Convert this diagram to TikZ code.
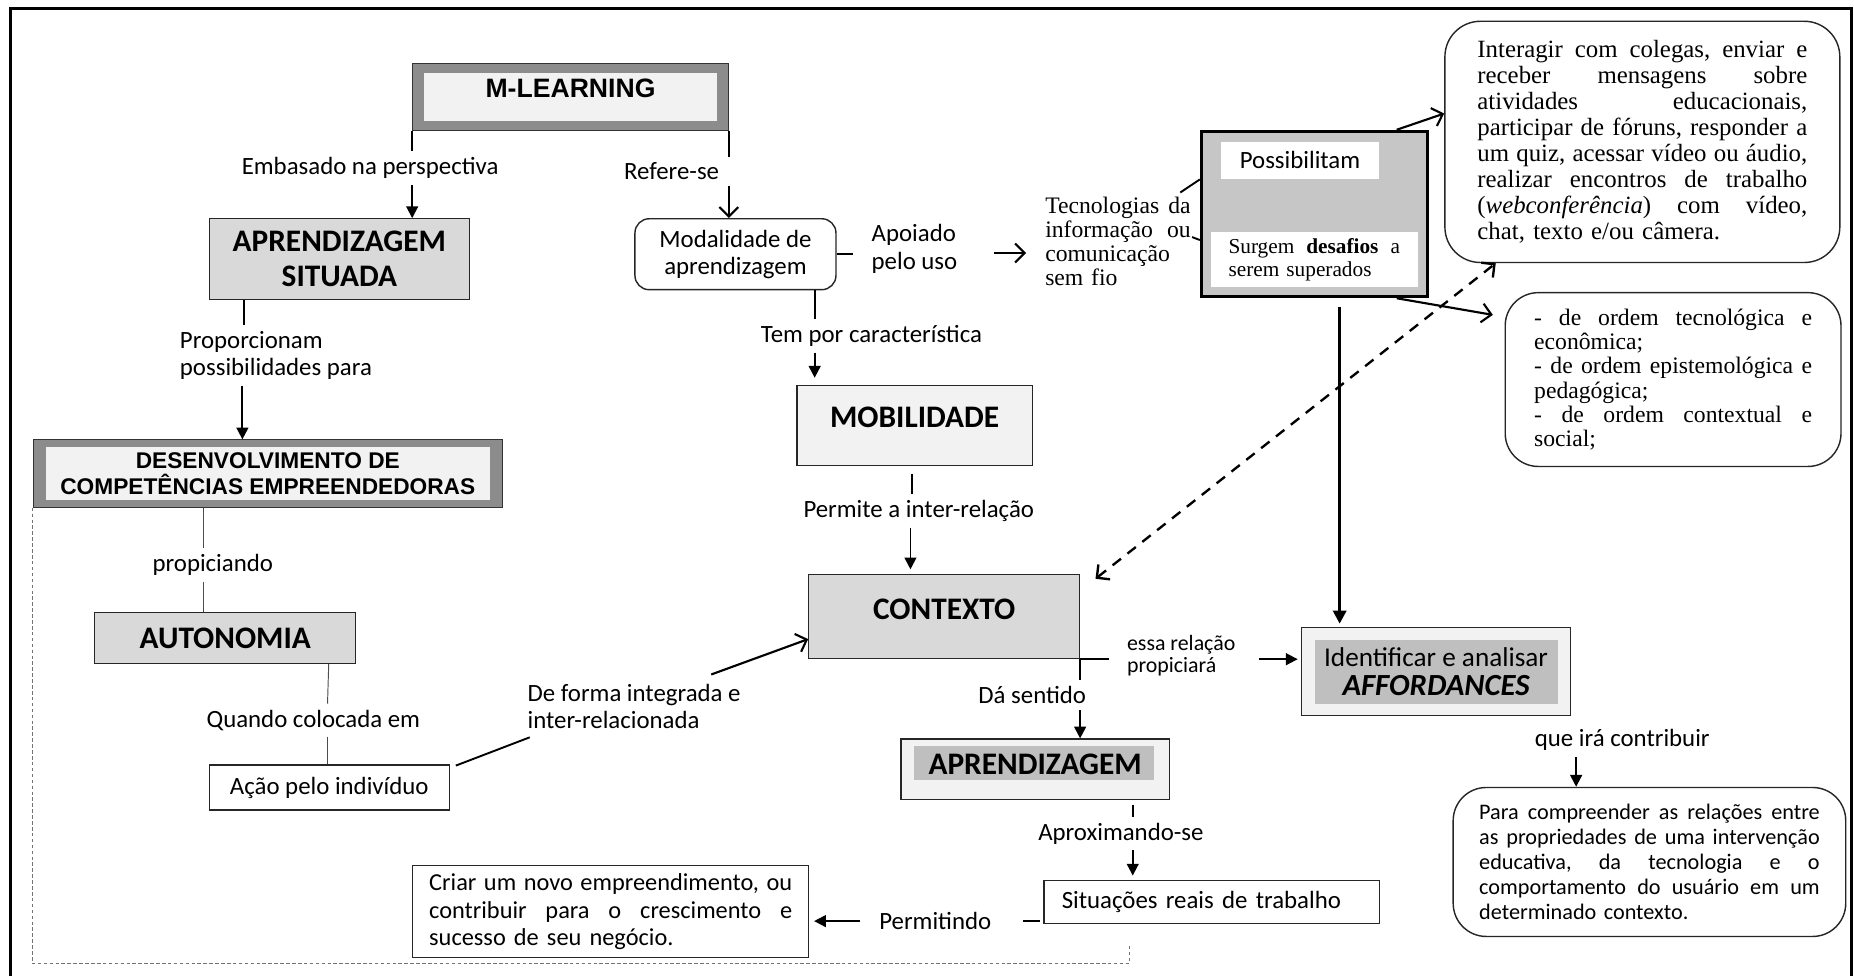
\documentclass[tikz,border=0pt]{standalone}
\usepackage{fontspec}
\setmainfont{Carlito}
\newfontfamily\arialf{Liberation Sans}
\newfontfamily\timesf{Liberation Serif}
\usepackage{tikz}
\usetikzlibrary{calc}
\usetikzlibrary{positioning}
\usetikzlibrary{arrows.meta}
\definecolor{fillA}{HTML}{D9D9D9}
\definecolor{fillB}{HTML}{F2F2F2}
\definecolor{fillC}{HTML}{BFBFBF}
\definecolor{possgray}{HTML}{C6C6C6}
\definecolor{bandgray}{HTML}{8C8C8C}
\setlength{\parindent}{0pt}
\hbadness=10000
\newcommand{\jl}[2]{\leavevmode\hbox to #1{\frenchspacing\spaceskip=.25em plus 1fil minus .08em\relax #2}\\}
\tikzset{
  innerfill/.style n args={5}{path picture={\fill[#1] ($(path picture bounding box.north west)+(#2,#3)$) rectangle ($(path picture bounding box.south east)+(-#4,-#5)$);}},
  bandbox/.style 2 args={draw=black!80, line width=0.8pt, fill=bandgray, innerfill={fillB}{#1}{#2}{#1}{#2}},
  sqbox/.style={draw=black!85, line width=1pt},
  rbox/.style={draw=black!85, line width=1.2pt, rounded corners=#1, fill=white},
  bigtxt/.style={font=\bfseries\fontsize{26.5}{30}\selectfont},
  stub/.style={line width=1.6pt},
  thinlink/.style={line width=0.8pt, black!70},
  arr/.style={line width=1.6pt, -{Triangle[length=10pt,width=10pt]}},
  arrthick/.style={line width=2.6pt, -{Triangle[length=11pt,width=11pt]}},
  oarr/.style={line width=1.8pt, -{Straight Barb[length=8pt,width=16pt]}},
  dasharr/.style={line width=2pt, dash pattern=on 9pt off 7pt, {Straight Barb[length=8pt,width=16pt]}-{Straight Barb[length=8pt,width=16pt]}},
  grayframe/.style={line width=0.9pt, black!55, dash pattern=on 3pt off 2pt}
}
\begin{document}
\begin{tikzpicture}[x=1pt,y=-1pt,
    every node/.style={font=\fontsize{21}{23}\selectfont, inner sep=5pt}]
  \useasboundingbox (0,0) rectangle (1568,825);
  \draw[line width=2.5pt] (9,830) -- (9,7) -- (1566,7) -- (1566,830);

  % boxes
  \node[bandbox={10}{8}, minimum width=267pt, minimum height=56pt, text depth=14pt,
        font=\arialf\bfseries\fontsize{22.5}{26}\selectfont] (ml) at (482.5,82) {M-LEARNING};
  \node[sqbox, fill=fillA, bigtxt, align=center, minimum width=220pt, minimum height=68pt] (asit) at (287,219) {APRENDIZAGEM\\SITUADA};
  \node[bandbox={11}{6}, minimum width=397pt, minimum height=57pt, align=center,
        font=\arialf\bfseries\fontsize{19.2}{22}\selectfont] (desenv) at (226.5,400.5) {DESENVOLVIMENTO DE\\COMPETÊNCIAS EMPREENDEDORAS};
  \node[sqbox, fill=fillA, bigtxt, minimum width=221pt, minimum height=43pt] (auto) at (190.5,539.5) {AUTONOMIA};
  \node[sqbox, fill=white, minimum width=203pt, minimum height=38pt] (acao) at (278.5,666) {Ação pelo indivíduo};
  \node[rbox=12pt, align=center, minimum width=170pt, minimum height=60pt] (moda) at (622,215) {Modalidade de\\aprendizagem};
  \node[sqbox, fill=fillB, bigtxt, text depth=14pt, minimum width=199pt, minimum height=68pt] (mob) at (773.5,360) {MOBILIDADE};
  \node[sqbox, fill=fillA, bigtxt, text depth=13pt, minimum width=229pt, minimum height=71pt] (ctx) at (798.5,521.5) {CONTEXTO};
  \node[sqbox, fill=fillB, innerfill={fillC}{11}{6}{13}{16}, bigtxt, text depth=9pt,
        minimum width=227pt, minimum height=51pt] (apr) at (875.5,650.5) {APRENDIZAGEM};
  \node[sqbox, fill=white, text width=254pt, align=left, inner xsep=15pt, minimum height=36pt] (sit) at (1025,763) {Situações reais de trabalho};
  \node[sqbox, fill=white, text width=307pt, inner xsep=14pt, minimum height=78pt,
        font=\fontsize{20.6}{23}\selectfont] (criar) at (516.5,771)
    {\jl{307pt}{Criar um novo empreendimento, ou}\jl{307pt}{contribuir para o crescimento e}sucesso de seu negócio.};
  \node[text width=123pt, inner sep=4pt, font=\timesf\fontsize{20}{20.3}\selectfont] (tec) at (945.5,204.5)
    {\jl{123pt}{Tecnologias da}\jl{123pt}{informação ou}comunicação\\sem fio};
  \node[draw, line width=2.5pt, fill=possgray, minimum width=191pt, minimum height=140pt] (poss) at (1111.5,181) {};
  \node[fill=white, minimum width=133pt, minimum height=31pt] (possA) at (1099.5,135.5) {Possibilitam};
  \node[fill=white, text width=145pt, inner xsep=15pt, minimum height=41pt,
        font=\timesf\fontsize{18}{19.5}\selectfont] (possB) at (1111.5,219.5) {\jl{145pt}{Surgem \textbf{desafios} a}serem superados};
  \node[rbox=30pt, text width=279pt, inner xsep=27.5pt, minimum height=204pt,
        font=\timesf\fontsize{21}{22}\selectfont] (inter) at (1389,120)
    {\jl{279pt}{Interagir com colegas, enviar e}\jl{279pt}{receber mensagens sobre}\jl{279pt}{atividades educacionais,}%
     \jl{279pt}{participar de fóruns, responder a}\jl{279pt}{um quiz, acessar vídeo ou áudio,}%
     \jl{279pt}{realizar encontros de trabalho}\jl{279pt}{(\textit{webconferência}) com vídeo,}chat, texto e/ou câmera.};
  \node[rbox=28pt, text width=235pt, inner xsep=24.5pt, minimum height=147pt,
        font=\timesf\fontsize{20}{20.6}\selectfont] (ordem) at (1415,321)
    {\jl{235pt}{- de ordem tecnológica e}econômica;\\\jl{235pt}{- de ordem epistemológica e}pedagógica;\\\jl{235pt}{- de ordem contextual e}social;};
  \node[sqbox, fill=fillB, innerfill={fillC}{11}{10}{10}{10}, align=center, font=\fontsize{23}{25}\selectfont,
        minimum width=227pt, minimum height=74pt] (ident) at (1214.5,568)
    {Identificar e analisar\\{\bfseries\itshape\fontsize{26}{25}\selectfont AFFORDANCES}};
  \node[rbox=28pt, text width=288pt, inner xsep=22pt, minimum height=126pt,
        font=\fontsize{18.8}{21}\selectfont] (para) at (1395,729)
    {\jl{288pt}{Para compreender as relações entre}\jl{288pt}{as propriedades de uma intervenção}%
     \jl{288pt}{educativa, da tecnologia e o}\jl{288pt}{comportamento do usuário em um}determinado contexto.};

  % labels
  \node (lemb) at (313,142) {Embasado na perspectiva};
  \node (lref) at (568,145) {Refere-se};
  \node[anchor=west, align=left] (lprop) at (147,300.5) {Proporcionam\\possibilidades para};
  \node (lpropic) at (180,478) {propiciando};
  \node (lquando) at (265,609) {Quando colocada em};
  \node[anchor=west, align=left] (lforma) at (441,597.5) {De forma integrada e\\inter-relacionada};
  \node (ltem) at (737,284) {Tem por característica};
  \node (lperm) at (777,432) {Permite a inter-relação};
  \node[anchor=west, align=left] (lapoio) at (732,210.5) {Apoiado\\pelo uso};
  \node[anchor=west, align=left, font=\fontsize{18.5}{19}\selectfont] (lessa) at (948,554.5) {essa relação\\propiciará};
  \node (lda) at (873,588) {Dá sentido};
  \node (laprox) at (948,705) {Aproximando-se};
  \node (lpermi) at (791,779) {Permitindo};
  \node (lque) at (1372,626) {que irá contribuir};

  % connectors
  \draw[stub] (ml.south west) -- (lemb.north -| ml.south west);
  \draw[arr] (lemb.south -| ml.south west) -- (asit.north -| ml.south west);
  \draw[stub] (ml.south east) -- (lref.north -| ml.south east);
  \draw[oarr] (lref.south -| ml.south east) -- (moda.north -| ml.south east);
  \draw[stub] (asit.south -| 206,0) -- (lprop.north -| 206,0);
  \draw[arr] (lprop.south -| 205,0) -- (desenv.north -| 205,0);
  \draw[thinlink] (desenv.south -| 172,0) -- (lpropic.north -| 172,0);
  \draw[thinlink] (lpropic.south -| 172,0) -- (auto.north -| 172,0);
  \draw[thinlink] (auto.south -| 278,0) -- (lquando.north -| 277,0);
  \draw[thinlink] (lquando.south -| 277,0) -- (acao.north -| 277,0);
  \draw[stub] ($(acao.north east)+(5,1)$) -- ($(lforma.south west)+(7,2)$);
  \draw[oarr] ($(lforma.north east)+(-30,-3)$) -- ($(ctx.south west)+(0,-17)$);
  \draw[stub, shorten >=11pt] (moda.east) -- (lapoio.west |- moda.east);
  \draw[stub] (moda.south -| 689,0) -- (ltem.north -| 689,0);
  \draw[arr, shorten >=6pt] (ltem.south -| 689,0) -- (mob.north -| 689,0);
  \draw[oarr, shorten <=26pt, shorten >=12pt] (lapoio.east |- 0,214) -- (tec.west |- 0,214);
  \draw[stub, shorten <=6pt] (mob.south -| 771,0) -- (lperm.north -| 771,0);
  \draw[arr, shorten >=4pt] (lperm.south -| 770,0) -- (ctx.north -| 770,0);
  \draw[stub] ($(tec.north east)+(-13,0)$) -- ($(poss.north west)+(0,42)$);
  \draw[stub] ($(tec.east)+(-3,-4)$) -- ($(poss.west)+(0,22)$);
  \draw[oarr] ($(poss.north east)+(-27,0)$) -- (inter.west |- 0,96);
  \draw[oarr, shorten >=10pt] ($(poss.south east)+(-27,0)$) -- (ordem.west |- 0,268);
  \draw[arrthick, shorten <=7pt, shorten >=3pt] (poss.south -| 1133,0) -- (ident.north -| 1133,0);
  \draw[dasharr] ($(ctx.north east)+(13,4)$) -- (inter.south -| 1265,0);
  \draw[stub, shorten >=10pt] (ctx.south east) -- (lessa.west |- ctx.south east);
  \draw[arr, shorten <=15pt, shorten >=3pt] (lessa.east |- ctx.south east) -- (ident.west |- ctx.south east);
  \draw[stub] (ctx.south east) -- (lda.north -| ctx.south east);
  \draw[arr] (lda.south -| ctx.south east) -- (apr.north -| ctx.south east);
  \draw[stub, shorten <=4pt] (apr.south -| 958,0) -- (laprox.north -| 958,0);
  \draw[arr, shorten >=4pt] (laprox.south -| 958,0) -- (sit.north -| 958,0);
  \draw[stub, shorten <=3pt, shorten >=22pt] (sit.west |- lpermi.east) -- (lpermi.east);
  \draw[arr, shorten <=11pt, shorten >=4pt] (lpermi.west) -- (criar.east |- lpermi.west);
  \draw[arr] (lque.south -| 1333,0) -- (para.north -| 1333,0);

  \draw[grayframe] (desenv.south west) -- (desenv.south west |- 0,815) -- (955,815) -- (955,800);
\end{tikzpicture}
\end{document}
